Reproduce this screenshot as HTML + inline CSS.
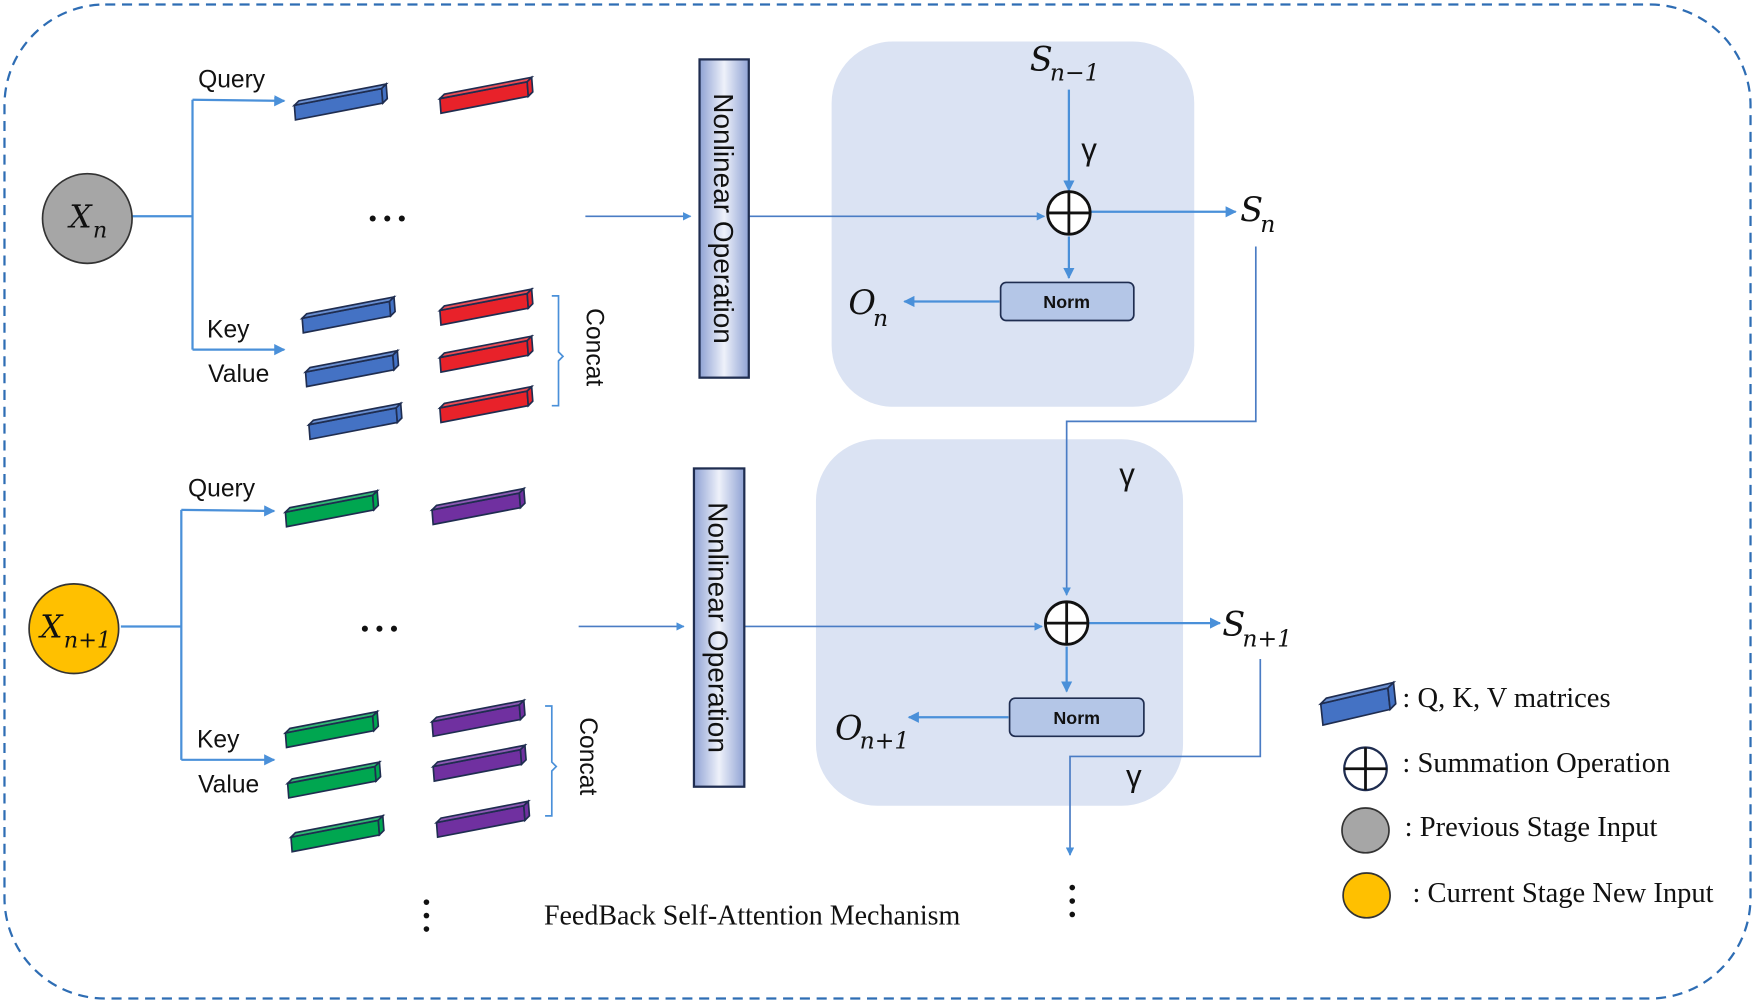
<!DOCTYPE html>
<html><head><meta charset="utf-8"><style>
html,body{margin:0;padding:0;background:#fff;}
svg{display:block;}
.t{font-family:"Liberation Sans",sans-serif;fill:#111;}
.s{font-family:"Liberation Serif",serif;fill:#111;}
.m{font-family:"DejaVu Serif","Liberation Serif",serif;font-style:italic;fill:#111;}
</style></head><body>
<svg width="1755" height="1003" viewBox="0 0 1568 895" preserveAspectRatio="none" xmlns="http://www.w3.org/2000/svg">
<defs>
<marker id="a" viewBox="0 0 10 10" refX="9" refY="5" markerWidth="5" markerHeight="5" orient="auto"><path d="M0,0L10,5L0,10z" fill="#4a90d9"/></marker>
<linearGradient id="ng" x1="0" x2="1" y1="0" y2="0"><stop offset="0" stop-color="#8fa2d4"/><stop offset="0.5" stop-color="#eef1fa"/><stop offset="1" stop-color="#8fa2d4"/></linearGradient>
<g id="bar"><polygon points="0,2 78,-13 79,0 1,15" /><polygon points="0,2 4,-2 82,-17 78,-13" fill-opacity="0.8"/><polygon points="78,-13 82,-17 83,-4 79,0"/></g>
<g id="lbar"><polygon points="0,4 60,-10 62,9 2,23" /><polygon points="0,4 5,-1 65,-15 60,-10" fill-opacity="0.8"/><polygon points="60,-10 65,-15 67,4 62,9"/></g>
</defs>
<rect x="4" y="4" width="1560" height="887" rx="90" fill="none" stroke="#2e6db4" stroke-width="2" stroke-dasharray="9,6"/>
<rect x="743" y="37" width="324" height="326" rx="55" fill="#dbe3f3"/>
<rect x="729" y="392" width="328" height="327" rx="55" fill="#dbe3f3"/>
<g stroke="#4a90d9" stroke-width="2" fill="none">
<line x1="118" y1="193" x2="172" y2="193"/>
<line x1="172" y1="89" x2="172" y2="312"/>
<line x1="172" y1="89" x2="254" y2="90" marker-end="url(#a)"/>
<line x1="172" y1="312" x2="254" y2="312" marker-end="url(#a)"/>
<line x1="108" y1="559" x2="162" y2="559"/>
<line x1="162" y1="455" x2="162" y2="678"/>
<line x1="162" y1="455" x2="245" y2="456" marker-end="url(#a)"/>
<line x1="162" y1="678" x2="245" y2="678" marker-end="url(#a)"/>
</g>
<g stroke="#4a7cc4" stroke-width="1.5" fill="none">
<line x1="523" y1="193" x2="617" y2="193" marker-end="url(#a)"/>
<line x1="669" y1="193" x2="933" y2="193" marker-end="url(#a)"/>
<line x1="517" y1="559" x2="611" y2="559" marker-end="url(#a)"/>
<line x1="665" y1="559" x2="931" y2="559" marker-end="url(#a)"/>
<polyline points="1122,220 1122,376 953,376 953,531" marker-end="url(#a)"/>
<polyline points="1126,588 1126,675 956,675 956,763" marker-end="url(#a)"/>
</g>
<g stroke="#4a90d9" stroke-width="2" fill="none">
<line x1="955" y1="80" x2="955" y2="170" marker-end="url(#a)"/>
<line x1="975" y1="189" x2="1104" y2="189" marker-end="url(#a)"/>
<line x1="955" y1="211" x2="955" y2="248" marker-end="url(#a)"/>
<line x1="893" y1="269" x2="808" y2="269" marker-end="url(#a)"/>
<line x1="973" y1="556" x2="1090" y2="556" marker-end="url(#a)"/>
<line x1="953" y1="577" x2="953" y2="617" marker-end="url(#a)"/>
<line x1="901" y1="640" x2="812" y2="640" marker-end="url(#a)"/>
</g>
<g stroke="#111" stroke-width="2.5" fill="#fff">
<circle cx="955" cy="190" r="19"/><line x1="936" y1="190" x2="974" y2="190"/><line x1="955" y1="171" x2="955" y2="209"/>
<circle cx="953" cy="556" r="19"/><line x1="934" y1="556" x2="972" y2="556"/><line x1="953" y1="537" x2="953" y2="575"/>
</g>
<rect x="894" y="252" width="119" height="34" rx="5" fill="#b4c6e7" stroke="#1f2d50" stroke-width="1.5"/>
<text x="953" y="275" class="t" font-size="16" font-weight="bold" text-anchor="middle">Norm</text>
<rect x="902" y="623" width="120" height="34" rx="5" fill="#b4c6e7" stroke="#1f2d50" stroke-width="1.5"/>
<text x="962" y="646" class="t" font-size="16" font-weight="bold" text-anchor="middle">Norm</text>
<rect x="625" y="53" width="44" height="284" fill="url(#ng)" stroke="#1f2d50" stroke-width="2"/>
<text transform="translate(638,195) rotate(90)" class="t" font-size="25" text-anchor="middle">Nonlinear Operation</text>
<rect x="620" y="418" width="45" height="284" fill="url(#ng)" stroke="#1f2d50" stroke-width="2"/>
<text transform="translate(633,560) rotate(90)" class="t" font-size="25" text-anchor="middle">Nonlinear Operation</text>
<circle cx="78" cy="195" r="40" fill="#a6a6a6" stroke="#333" stroke-width="1.5"/>
<text x="62" y="203" class="m" font-size="28">X</text><text x="83" y="212" class="m" font-size="20">n</text>
<circle cx="66" cy="561" r="40" fill="#ffc000" stroke="#333" stroke-width="1.5"/>
<text x="36" y="569" class="m" font-size="28">X</text><text x="57" y="578" class="m" font-size="20">n+1</text>
<g class="t" font-size="22">
<text x="177" y="78">Query</text><text x="185" y="301">Key</text><text x="186" y="341">Value</text>
<text x="168" y="443">Query</text><text x="176" y="667">Key</text><text x="177" y="707">Value</text>
</g>
<text transform="translate(524,275) rotate(90)" class="t" font-size="22">Concat</text>
<text transform="translate(518,640) rotate(90)" class="t" font-size="22">Concat</text>
<g fill="none" stroke="#4a90d9" stroke-width="1.5">
<path d="M493,264 h6 v50 l4,4 l-4,4 v40 h-6"/>
<path d="M487,630 h6 v50 l4,4 l-4,4 v40 h-6"/>
</g>
<g fill="#111">
<circle cx="333" cy="195" r="2.7"/><circle cx="346" cy="195" r="2.7"/><circle cx="359" cy="195" r="2.7"/>
<circle cx="326" cy="561" r="2.7"/><circle cx="339" cy="561" r="2.7"/><circle cx="352" cy="561" r="2.7"/>
<circle cx="381" cy="805" r="2.5"/><circle cx="381" cy="817" r="2.5"/><circle cx="381" cy="829" r="2.5"/>
<circle cx="958" cy="792" r="2.5"/><circle cx="958" cy="804" r="2.5"/><circle cx="958" cy="816" r="2.5"/>
</g>
<text x="920" y="63" class="m" font-size="30">S</text><text x="938" y="72" class="m" font-size="21">n−1</text>
<text x="966" y="143" class="t" font-size="28">γ</text>
<text x="1108" y="197" class="m" font-size="30">S</text><text x="1126" y="207" class="m" font-size="21">n</text>
<text x="758" y="280" class="m" font-size="30">O</text><text x="780" y="291" class="m" font-size="21">n</text>
<text x="1000" y="433" class="t" font-size="28">γ</text>
<text x="1092" y="567" class="m" font-size="30">S</text><text x="1110" y="577" class="m" font-size="21">n+1</text>
<text x="746" y="660" class="m" font-size="30">O</text><text x="768" y="668" class="m" font-size="21">n+1</text>
<text x="1006" y="702" class="t" font-size="28">γ</text>
<text x="486" y="825" class="s" font-size="25">FeedBack Self-Attention Mechanism</text>
<g stroke="#1f2d50" stroke-width="1.5">
<use href="#bar" x="263" y="92" fill="#4472c4"/>
<use href="#bar" x="393" y="86" fill="#e8222a"/>
<use href="#bar" x="270" y="282" fill="#4472c4"/>
<use href="#bar" x="273" y="330" fill="#4472c4"/>
<use href="#bar" x="276" y="377" fill="#4472c4"/>
<use href="#bar" x="393" y="275" fill="#e8222a"/>
<use href="#bar" x="393" y="317" fill="#e8222a"/>
<use href="#bar" x="393" y="362" fill="#e8222a"/>
<use href="#bar" x="255" y="455" fill="#00a650"/>
<use href="#bar" x="386" y="453" fill="#7030a0"/>
<use href="#bar" x="255" y="652" fill="#00a650"/>
<use href="#bar" x="257" y="697" fill="#00a650"/>
<use href="#bar" x="260" y="745" fill="#00a650"/>
<use href="#bar" x="386" y="642" fill="#7030a0"/>
<use href="#bar" x="387" y="682" fill="#7030a0"/>
<use href="#bar" x="390" y="732" fill="#7030a0"/>
<use href="#lbar" x="1180" y="624" fill="#4472c4"/>
</g>
<g stroke="#1f2d50" stroke-width="2" fill="#fff">
<circle cx="1220" cy="686" r="19"/><line x1="1201" y1="686" x2="1239" y2="686" stroke="#111" stroke-width="2.5"/><line x1="1220" y1="667" x2="1220" y2="705" stroke="#111" stroke-width="2.5"/>
</g>
<ellipse cx="1220" cy="741" rx="21" ry="20" fill="#a6a6a6" stroke="#333" stroke-width="1.5"/>
<ellipse cx="1221" cy="799" rx="21" ry="20" fill="#ffc000" stroke="#333" stroke-width="1.5"/>
<g class="s" font-size="25.5">
<text x="1253" y="631">: Q, K, V matrices</text>
<text x="1253" y="689">: Summation Operation</text>
<text x="1255" y="746">: Previous Stage Input</text>
<text x="1262" y="805">: Current Stage New Input</text>
</g>
</svg>
</body></html>
